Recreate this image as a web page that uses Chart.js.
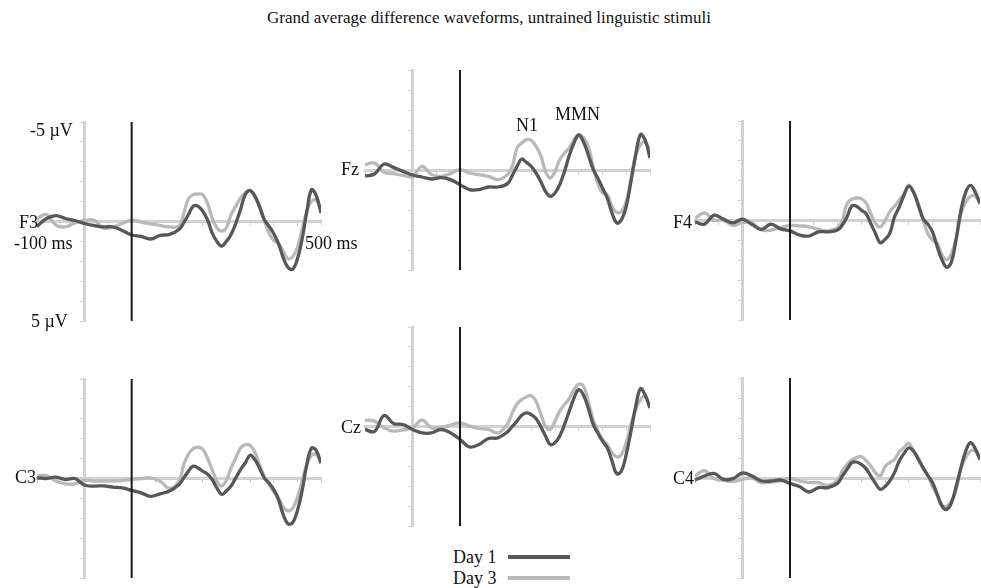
<!DOCTYPE html>
<html>
<head>
<meta charset="utf-8">
<script src="https://cdn.jsdelivr.net/npm/chart.js@4/dist/chart.umd.min.js"></script>
<style>
  html, body { margin: 0; padding: 0; background: #fff; }
  #wrap { position: relative; width: 981px; height: 588px; overflow: hidden; background: #fff;
          font-family: "Liberation Serif", "Times New Roman", serif; color: #111; }
  #wrap canvas { position: absolute; }
  .lbl { position: absolute; font-size: 18px; line-height: 1; white-space: nowrap; transform: translateY(-50%); }
  .sw { position: absolute; height: 4px; width: 62px; }
</style>
</head>
<body>
<div id="wrap"></div>
<script>
// time axis in ms (20 ms steps in the baseline, 10 ms from 200 ms on)
const times = [-100, -80, -60, -40, -20, 0, 20, 40, 60, 80, 100, 120, 140, 160, 180, 200,
  210, 220, 230, 240, 250, 260, 270, 280, 290, 300,
  310, 320, 330, 340, 350, 360, 370, 380, 390, 400,
  410, 420, 430, 440, 450, 460, 470, 480, 490, 500];

const onsetMs = 100;
const seriesNames = ['Day 1', 'Day 3'];

// µV, negative plotted up
const f3Day1 = [0.25, -0.15, -0.3, -0.15, -0.05, 0.1, 0.2, 0.27, 0.27, 0.45, 0.68, 0.75, 0.88, 0.7, 0.65, 0.4,
  0.07, -0.35, -0.77, -0.77, -0.52, -0.1, 0.57, 1.0, 1.23, 1.0,
  0.65, 0.1, -0.6, -1.35, -1.55, -1.3, -0.75, -0.1, 0.23, 0.6,
  1.1, 1.8, 2.3, 2.4, 1.9, 0.9, -0.5, -1.6, -1.3, -0.43];
const f3Day3 = [-0.15, -0.35, 0.18, 0.27, 0.07, -0.05, -0.07, 0.32, 0.28, 0.1, -0.07, 0.03, 0.12, 0.2, 0.27, 0.23,
  -0.4, -1.15, -1.35, -1.38, -1.35, -0.93, -0.18, 0.32, 0.48, 0.32,
  -0.35, -0.77, -1.18, -1.43, -1.57, -1.23, -0.8, -0.1, 0.57, 0.95,
  1.1, 1.48, 1.87, 1.77, 1.32, 0.4, -0.52, -1.02, -1.07, -0.6];

const fzDay1 = [0.3, 0.2, -0.3, -0.13, 0.07, 0.25, 0.35, 0.45, 0.38, 0.48, 0.73, 0.98, 0.98, 0.85, 0.85, 0.68,
  0.28, -0.18, -0.55, -0.38, -0.18, 0.15, 0.57, 1.07, 1.32, 1.15,
  0.73, 0.07, -0.72, -1.35, -1.75, -1.4, -0.77, -0.05, 0.4, 0.9,
  1.4, 2.15, 2.65, 2.48, 1.82, 0.57, -0.77, -1.77, -1.48, -0.6];
const fzDay3 = [-0.27, -0.35, 0.12, 0.18, 0.27, 0.33, -0.18, 0.23, 0.32, 0.18, -0.02, 0.15, 0.23, 0.32, 0.48, 0.23,
  -0.18, -1.1, -1.35, -1.52, -1.48, -1.18, -0.72, 0.07, 0.4, 0.07,
  -0.52, -0.85, -1.1, -1.52, -1.77, -1.6, -1.18, -0.22, 0.65, 1.15,
  1.23, 1.82, 2.12, 2.07, 1.57, 0.4, -0.77, -1.27, -1.43, -0.85];

const f4Day1 = [0.07, 0.18, -0.27, -0.07, 0.12, -0.07, 0.2, 0.45, 0.18, 0.42, 0.52, 0.73, 0.78, 0.57, 0.57, 0.48,
  0.23, -0.18, -0.72, -0.72, -0.52, -0.35, 0.15, 0.65, 1.12, 0.95,
  0.65, -0.18, -0.68, -1.27, -1.72, -1.43, -0.77, -0.1, 0.18, 0.57,
  1.32, 1.98, 2.35, 2.07, 0.9, -0.52, -1.43, -1.77, -1.43, -0.85];
const f4Day3 = [-0.1, -0.38, -0.02, 0, 0.25, 0.1, 0.12, 0.48, 0.48, 0.35, 0.25, 0.27, 0.32, 0.45, 0.52, 0.35,
  0, -0.85, -1.07, -1.13, -1.1, -0.88, -0.35, 0.15, 0.32, 0,
  -0.43, -0.72, -1.02, -1.35, -1.77, -1.43, -0.85, -0.05, 0.65, 0.98,
  1.15, 1.73, 1.98, 1.65, 0.9, -0.35, -0.93, -1.22, -1.22, -0.85];

const c3Day1 = [-0.03, 0, -0.07, 0.05, 0, 0.33, 0.38, 0.37, 0.43, 0.47, 0.6, 0.72, 0.9, 0.77, 0.63, 0.3,
  -0.03, -0.37, -0.62, -0.53, -0.37, -0.23, 0.05, 0.47, 0.8, 0.63,
  0.38, -0.03, -0.45, -0.78, -1.17, -0.95, -0.53, -0.03, 0.22, 0.55,
  1.05, 1.8, 2.27, 2.22, 1.63, 0.63, -0.7, -1.53, -1.4, -0.78];
const c3Day3 = [-0.12, -0.15, 0.13, 0.27, 0.27, 0.1, 0.13, 0.13, 0.12, 0.1, 0.05, 0, -0.03, 0.13, 0.5, 0.13,
  -0.7, -1.23, -1.5, -1.57, -1.48, -1.03, -0.45, 0.13, 0.38, 0.1,
  -0.53, -1.03, -1.53, -1.7, -1.67, -1.33, -0.7, -0.12, 0.3, 0.67,
  0.97, 1.43, 1.63, 1.5, 0.97, 0.13, -0.7, -1.17, -1.2, -0.78];

const czDay1 = [0.15, 0.25, -0.55, -0.15, -0.1, 0.15, 0.32, 0.32, 0.15, 0.32, 0.65, 1.03, 0.9, 0.6, 0.57, 0.27,
  0, -0.27, -0.57, -0.68, -0.6, -0.4, 0, 0.48, 0.9, 0.82,
  0.48, -0.1, -0.77, -1.43, -1.85, -1.57, -0.93, -0.13, 0.32, 0.73,
  1.07, 1.73, 2.37, 2.23, 1.4, 0.23, -1.02, -1.9, -1.57, -0.93];
const czDay3 = [-0.32, -0.27, 0.07, 0.23, 0.17, 0.07, -0.32, 0.07, 0.05, -0.07, -0.18, -0.02, 0.1, 0.15, 0.32, -0.13,
  -0.68, -1.13, -1.35, -1.5, -1.55, -1.27, -0.63, -0.02, 0.15, -0.27,
  -0.77, -1.1, -1.4, -1.85, -2.13, -2.02, -1.27, -0.35, 0.23, 0.65,
  0.9, 1.32, 1.53, 1.4, 0.82, -0.1, -0.85, -1.35, -1.52, -0.93];

const c4Day1 = [0.1, -0.1, -0.23, 0.07, 0.03, -0.25, -0.1, 0.15, 0.15, 0.1, 0.27, 0.43, 0.7, 0.48, 0.48, 0.27,
  -0.1, -0.43, -0.77, -0.8, -0.68, -0.47, -0.1, 0.27, 0.57, 0.43,
  0.15, -0.27, -0.85, -1.23, -1.5, -1.35, -0.93, -0.52, -0.13, 0.23,
  0.82, 1.4, 1.57, 1.23, 0.4, -0.52, -1.35, -1.77, -1.47, -0.93];
const c4Day3 = [-0.1, -0.37, 0.03, 0.12, 0.17, 0.07, 0, 0.23, 0.2, 0.15, 0.03, 0.15, 0.23, 0.23, 0.37, 0.1,
  -0.35, -0.68, -0.9, -1.02, -1.07, -0.88, -0.6, -0.27, -0.1, -0.57,
  -0.77, -0.93, -1.3, -1.52, -1.73, -1.35, -1.02, -0.52, -0.13, 0.4,
  0.87, 1.37, 1.43, 1.15, 0.57, -0.52, -1.02, -1.35, -1.35, -0.93];

const DARK = '#575757';
const LIGHT = '#b9b9b9';
const AXIS = '#d2d2d2';
const PAD = 8;

const wrap = document.getElementById('wrap');

const panels = [
  { name: 'F3', left: 37, top: 122, w: 284, h: 199, day1: f3Day1, day3: f3Day3 },
  { name: 'Fz', left: 365, top: 70, w: 285, h: 200, day1: fzDay1, day3: fzDay3 },
  { name: 'F4', left: 695, top: 121, w: 285, h: 199, day1: f4Day1, day3: f4Day3 },
  { name: 'C3', left: 37, top: 379, w: 284, h: 199, day1: c3Day1, day3: c3Day3 },
  { name: 'Cz', left: 365, top: 327, w: 285, h: 199, day1: czDay1, day3: czDay3 },
  { name: 'C4', left: 695, top: 378, w: 285, h: 200, day1: c4Day1, day3: c4Day3 }
];

function toPoints(vals) {
  return times.map((t, i) => ({ x: t, y: vals[i] }));
}

function axisOpts(extra) {
  return Object.assign({
    type: 'linear',
    grid: { display: true, drawOnChartArea: false, drawTicks: true, tickLength: 3, color: AXIS, lineWidth: 1 },
    border: { display: true, color: AXIS, width: 3 },
  }, extra);
}

panels.forEach(p => {
  const cv = document.createElement('canvas');
  cv.width = p.w + PAD * 2;
  cv.height = p.h + PAD * 2;
  cv.style.left = (p.left - PAD) + 'px';
  cv.style.top = (p.top - PAD) + 'px';
  wrap.appendChild(cv);

  new Chart(cv.getContext('2d'), {
    type: 'line',
    data: {
      datasets: [
        {
          label: 'onset',
          data: [{ x: onsetMs, y: -5 }, { x: onsetMs, y: 5 }],
          borderColor: '#1a1a1a',
          borderWidth: 2,
          pointRadius: 0,
          tension: 0
        },
        {
          label: seriesNames[0],
          data: toPoints(p.day1),
          borderColor: DARK,
          borderWidth: 3.3,
          pointRadius: 0,
          tension: 0.4
        },
        {
          label: seriesNames[1],
          data: toPoints(p.day3),
          borderColor: LIGHT,
          borderWidth: 3.3,
          pointRadius: 0,
          tension: 0.4
        }
      ]
    },
    options: {
      responsive: false,
      animation: false,
      events: [],
      devicePixelRatio: 1,
      layout: { padding: PAD },
      plugins: { legend: { display: false }, tooltip: { enabled: false } },
      scales: {
        x: axisOpts({
          min: -100, max: 500,
          position: { y: 0 },
          afterFit: s => { s.height = 0; },
          ticks: { display: false, stepSize: 50 }
        }),
        y: axisOpts({
          min: -5, max: 5, reverse: true,
          position: { x: 0 },
          afterFit: s => { s.width = 0; },
          ticks: { display: false, stepSize: 1 }
        })
      }
    }
  });
});

// text
function label(text, x, y, opts = {}) {
  const d = document.createElement('div');
  d.className = 'lbl';
  d.textContent = text;
  if (opts.right) { d.style.right = (981 - x) + 'px'; } else { d.style.left = x + 'px'; }
  d.style.top = y + 'px';
  if (opts.size) d.style.fontSize = opts.size + 'px';
  if (opts.center) { d.style.left = x + 'px'; d.style.transform = 'translate(-50%, -50%)'; }
  wrap.appendChild(d);
}

label('Grand average difference waveforms, untrained linguistic stimuli', 489, 17, { center: true, size: 17 });
label('-5 µV', 30, 130);
label('5 µV', 31, 321);
label('-100 ms', 14, 243);
label('500 ms', 305, 243);
label('N1', 516, 125);
label('MMN', 555, 114);
label('F3', 38, 222, { right: true });
label('Fz', 359, 169, { right: true });
label('F4', 692, 222, { right: true });
label('C3', 36, 477, { right: true });
label('Cz', 361, 427, { right: true });
label('C4', 694, 478, { right: true });

// legend
[[seriesNames[0], DARK, 557], [seriesNames[1], LIGHT, 578]].forEach(([txt, col, y]) => {
  label(txt, 453, y);
  const s = document.createElement('div');
  s.className = 'sw';
  s.style.left = '508px';
  s.style.top = (y - 2) + 'px';
  s.style.background = col;
  wrap.appendChild(s);
});
</script>
</body>
</html>
